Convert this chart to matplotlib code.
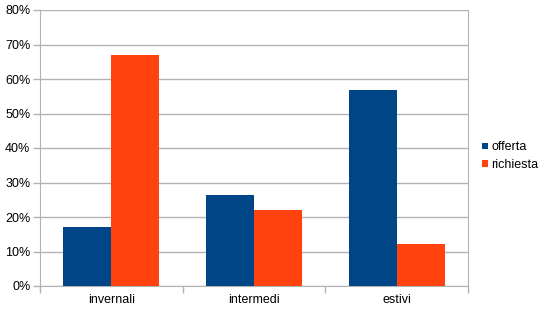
import numpy as np
import matplotlib.pyplot as plt
from matplotlib.ticker import FixedLocator, PercentFormatter

plt.rcParams['font.family'] = ['Liberation Sans', 'DejaVu Sans']

# Data
categories = ['invernali', 'intermedi', 'estivi']
offerta = [17.0, 26.5, 56.8]
richiesta = [67.1, 22.0, 12.1]

blue = '#004586'
red = '#ff420e'
grey = '#b3b3b3'

fig = plt.figure(figsize=(5.41, 3.14), dpi=100)
ax = fig.add_axes([40/541, 28/314, 428/541, 276/314])

x = np.arange(len(categories))
w = 0.336
ax.bar(x - w/2, offerta, w, color=blue, label='offerta', zorder=3)
ax.bar(x + w/2, richiesta, w, color=red, label='richiesta', zorder=3)

ax.set_xlim(-0.5, len(categories) - 0.5)
ax.set_ylim(0, 80)
ax.set_yticks(np.arange(0, 81, 10))
ax.yaxis.set_major_formatter(PercentFormatter(decimals=0))
ax.grid(axis='y', color=grey, linewidth=1, zorder=0)

# category labels centered, tick marks at the boundaries
ax.set_xticks(x)
ax.set_xticklabels(categories)
ax.xaxis.set_minor_locator(FixedLocator(np.arange(-0.5, len(categories), 1)))
ax.tick_params(axis='x', which='major', length=0, pad=6)
ax.tick_params(axis='x', which='minor', length=5, color=grey, width=1)
ax.tick_params(axis='y', length=5, color=grey, width=1, pad=2)
ax.tick_params(labelsize=9)

for s in ax.spines.values():
    s.set_color(grey)
ax.spines['top'].set_visible(False)

ax.legend(loc='center left', bbox_to_anchor=(1.033, 0.47), frameon=False,
          fontsize=9, handlelength=0.45, handleheight=0.45, handletextpad=0.3,
          labelspacing=0.45, borderaxespad=0.0, borderpad=0.0)

fig.savefig('out.png', dpi=100)
